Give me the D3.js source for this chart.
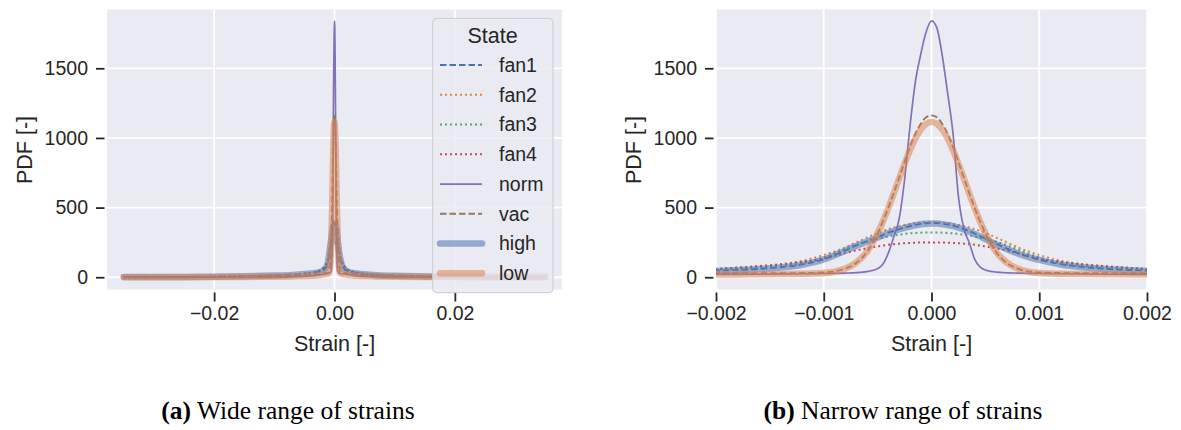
<!DOCTYPE html>
<html><head><meta charset="utf-8">
<script src="https://cdn.jsdelivr.net/npm/d3@7"></script>
<style>
html,body{margin:0;padding:0;background:#fff;}
svg{display:block;}
</style></head>
<body>
<svg id="chart" width="1181" height="430"></svg>
<script>
// ---------------- DATA ----------------
const strain = [-0.035,-0.025,-0.02,-0.015,-0.01,-0.007,-0.005,-0.004,-0.003,-0.0025,-0.002,-0.0017,-0.0014,-0.0012,-0.001,-0.0009,-0.0008,-0.0007,-0.0006,-0.00055,-0.0005,-0.00045,-0.0004,-0.00035,-0.0003,-0.00025,-0.0002,-0.00015,-0.0001,-0.00005,
  0,
  0.00005,0.0001,0.00015,0.0002,0.00025,0.0003,0.00035,0.0004,0.00045,0.0005,0.00055,0.0006,0.0007,0.0008,0.0009,0.001,0.0012,0.0014,0.0017,0.002,0.0025,0.003,0.004,0.005,0.007,0.01,0.015,0.02,0.025,0.035];

const fan1 = [1,2,4,7,12,17,23,28,35,40,48,56,72,92,130,160,192,228,258,272,287,304,320,334,346,357,367,376,383,388,
  390,
  389,385,378,370,359,346,331,314,296,277,258,240,206,174,148,127,94,74,57,48,39,33,26,22,16,11,6,4,2,1];
const fan2 = [1,2,4,8,14,20,27,32,40,47,58,72,93,118,160,185,215,250,285,302,318,333,346,358,368,376,383,388,392,394,
  395,
  394,392,388,383,376,368,358,346,333,318,302,285,250,215,185,160,118,93,72,58,47,40,32,27,20,14,8,4,2,1];
const fan3 = [1,2,4,8,13,19,26,31,39,46,55,65,80,100,140,170,200,230,255,266,276,285,293,300,306,311,315,318,320,321,
  321,
  321,320,318,315,311,306,300,293,285,276,266,255,230,200,170,140,100,80,65,55,46,39,31,26,19,13,8,4,2,1];
const fan4 = [0.5,1.5,3,6,10,15,21,27,37,46,60,75,93,110,133,153,173,192,208,215,222,228,233,237,241,244,246,248,249,250,
  250,
  250,249,248,246,244,241,237,233,228,222,215,208,192,173,153,133,110,93,75,60,46,37,27,21,15,10,6,3,1.5,0.5];
const norm = [0,0.5,1,2,3,5,8,10,14,17,20,22,24,25,27,28,30,33,40,48,62,95,175,290,420,700,1080,1400,1600,1760,
  1840,
  1790,1590,1320,1030,580,350,250,130,75,52,42,37,32,30,28,27,25,24,22,20,17,14,10,8,5,3,2,1,0.5,0];
const vac = [0,0.3,1,2,4,6,9,12,17,21,27,28,29,30,34,42,62,102,180,240,315,402,500,605,715,828,935,1030,1100,1148,
  1162,
  1148,1100,1030,935,828,715,605,500,402,315,240,180,102,62,42,34,30,29,28,27,21,17,12,9,6,4,2,1,0.3,0];
const high = [1,2,4,7,12,17,23,27,33,37,45,54,70,90,128,158,190,225,255,270,285,302,318,332,344,355,364,373,380,384,
  386,
  385,381,375,367,356,343,328,311,293,273,254,236,202,170,145,125,92,72,55,45,36,31,25,21,15,10,6,3.5,2,1];
const low = [0,0.3,1,2,4,6,8,10,13,15,19,21,23,25,30,40,62,105,182,243,317,402,498,602,709,814,911,996,1060,1101,
  1115,
  1101,1060,996,911,814,709,602,498,402,317,243,182,105,62,40,30,25,23,21,19,15,13,10,8,6,4,2,1,0.3,0];

const stateNames = ["fan1","fan2","fan3","fan4","norm","vac","high","low"];
const seriesValues = [fan1, fan2, fan3, fan4, norm, vac, high, low];

const yTicks = [0, 500, 1000, 1500];
const xTicksWide = [-0.02, 0.00, 0.02];
const xTickLabelsWide = ["\u22120.02", "0.00", "0.02"];
const xTicksNarrow = [-0.002, -0.001, 0.000, 0.001, 0.002];
const xTickLabelsNarrow = ["\u22120.002", "\u22120.001", "0.000", "0.001", "0.002"];

const xLabel = "Strain [-]";
const yLabel = "PDF [-]";
const legendTitle = "State";
const captionA = ["(a)", " Wide range of strains"];
const captionB = ["(b)", " Narrow range of strains"];

// ---------------- STYLE ----------------
const styles = {
  fan1: {color:"#4c72b0", width:1.9, dash:"6.5,3", opacity:1, cap:"butt"},
  fan2: {color:"#dd8452", width:2, dash:"2,3", opacity:1, cap:"butt"},
  fan3: {color:"#55a868", width:2, dash:"2,3", opacity:1, cap:"butt"},
  fan4: {color:"#c44e52", width:2, dash:"2,3", opacity:1, cap:"butt"},
  norm: {color:"#8172b3", width:1.7, dash:null, opacity:1, cap:"butt"},
  vac:  {color:"#937860", width:1.9, dash:"6.5,3", opacity:1, cap:"butt"},
  high: {color:"#4c72b0", width:6.5, dash:null, opacity:0.55, cap:"round"},
  low:  {color:"#dd8452", width:6.5, dash:null, opacity:0.55, cap:"round"}
};
const TXT = "#262626";
const BG = "#eaeaf2";
const SANS = "'Liberation Sans', Arial, Helvetica, sans-serif";
const SERIF = "'Liberation Serif', 'Times New Roman', serif";

const svg = d3.select("#chart");

const series = stateNames.map((name, i) => ({
  name,
  points: strain.map((x, j) => ({x, y: seriesValues[i][j]}))
}));

const yTop = 9.5, yBot = 289.5;
const yScale = d3.scaleLinear().domain([-88, 1922]).range([yBot, yTop]);

function panel(opts) {
  const {x0, x1, xDomain, xTicks, xTickLabels, id} = opts;
  const xScale = d3.scaleLinear().domain(xDomain).range([x0, x1]);
  const g = svg.append("g");
  g.append("rect").attr("x", x0).attr("y", yTop).attr("width", x1 - x0).attr("height", yBot - yTop).attr("fill", BG);

  g.append("clipPath").attr("id", id).append("rect")
    .attr("x", x0).attr("y", yTop).attr("width", x1 - x0).attr("height", yBot - yTop);

  const grid = g.append("g");
  grid.selectAll("line.gx").data(xTicks).join("line")
    .attr("x1", d => xScale(d)).attr("x2", d => xScale(d))
    .attr("y1", yTop).attr("y2", yBot)
    .attr("stroke", "#fff").attr("stroke-width", 1.8);
  grid.selectAll("line.gy").data(yTicks).join("line")
    .attr("class","gy")
    .attr("x1", x0).attr("x2", x1)
    .attr("y1", d => yScale(d)).attr("y2", d => yScale(d))
    .attr("stroke", "#fff").attr("stroke-width", 1.8);

  const line = d3.line().x(d => xScale(d.x)).y(d => yScale(d.y)).curve(d3.curveMonotoneX);
  const lg = g.append("g").attr("clip-path", `url(#${id})`);
  series.forEach(s => {
    const st = styles[s.name];
    lg.append("path").datum(s.points)
      .attr("d", line)
      .attr("fill", "none")
      .attr("stroke", st.color)
      .attr("stroke-width", st.width)
      .attr("stroke-opacity", st.opacity)
      .attr("stroke-dasharray", st.dash)
      .attr("stroke-linecap", st.cap)
      .attr("stroke-linejoin", "round");
  });

  const xAxis = d3.axisBottom(xScale).tickValues(xTicks)
    .tickFormat((d, i) => xTickLabels[i]).tickSize(9).tickPadding(5);
  const xg = g.append("g").attr("transform", `translate(0,${yBot + 3})`).call(xAxis);
  xg.select(".domain").remove();
  xg.selectAll(".tick line").attr("stroke", TXT).attr("stroke-width", 1.8);
  xg.selectAll(".tick text").attr("fill", TXT).style("font-family", SANS).style("font-size", "19.5px");

  const yAxis = d3.axisLeft(yScale).tickValues(yTicks).tickFormat(d3.format("d")).tickSize(8.5).tickPadding(8);
  const yg = g.append("g").attr("transform", `translate(${x0 - 2.5},0)`).call(yAxis);
  yg.select(".domain").remove();
  yg.selectAll(".tick line").attr("stroke", TXT).attr("stroke-width", 1.8);
  yg.selectAll(".tick text").attr("fill", TXT).style("font-family", SANS).style("font-size", "19.5px");

  g.append("text").attr("x", (x0 + x1) / 2).attr("y", 351)
    .attr("text-anchor", "middle").attr("fill", TXT)
    .style("font-family", SANS).style("font-size", "21.5px").text(xLabel);
  g.append("text")
    .attr("transform", `translate(${opts.yLabelX},150) rotate(-90)`)
    .attr("text-anchor", "middle").attr("dy", "0.35em").attr("fill", TXT)
    .style("font-family", SANS).style("font-size", "21.5px").text(yLabel);
  return {xScale, g};
}

panel({id:"clipA", x0:107, x1:562, xDomain:[-0.0378, 0.0378], xTicks:xTicksWide, xTickLabels:xTickLabelsWide, yLabelX:24.5});
panel({id:"clipB", x0:716, x1:1147, xDomain:[-0.002, 0.002], xTicks:xTicksNarrow, xTickLabels:xTickLabelsNarrow, yLabelX:633.5});

// legend
const leg = svg.append("g");
leg.append("rect").attr("x", 432.7).attr("y", 18.3).attr("width", 120.3).attr("height", 274.4)
  .attr("rx", 4).attr("fill", BG).attr("fill-opacity", 0.8)
  .attr("stroke", "#cccccc").attr("stroke-width", 1);
leg.append("text").attr("x", 492.5).attr("y", 35).attr("dy", "0.35em")
  .attr("text-anchor", "middle").attr("fill", TXT)
  .style("font-family", SANS).style("font-size", "21.5px").text(legendTitle);
const rowY = d3.scaleLinear().domain([0, 7]).range([65, 273.3]);
stateNames.forEach((name, i) => {
  const st = styles[name];
  const y = rowY(i);
  leg.append("line").attr("x1", 440).attr("x2", 482).attr("y1", y).attr("y2", y)
    .attr("stroke", st.color).attr("stroke-width", st.width)
    .attr("stroke-opacity", st.opacity).attr("stroke-dasharray", st.dash)
    .attr("stroke-linecap", st.cap);
  leg.append("text").attr("x", 499).attr("y", y).attr("dy", "0.35em")
    .attr("fill", TXT).style("font-family", SANS).style("font-size", "19.5px").text(name);
});

// captions
function caption(cx, parts) {
  const t = svg.append("text").attr("x", cx).attr("y", 419).attr("text-anchor", "middle")
    .attr("fill", "#000").style("font-family", SERIF).style("font-size", "25.5px");
  t.append("tspan").style("font-weight", "bold").text(parts[0]);
  t.append("tspan").text(parts[1]);
}
caption(288, captionA);
caption(903, captionB);
</script>
</body></html>
